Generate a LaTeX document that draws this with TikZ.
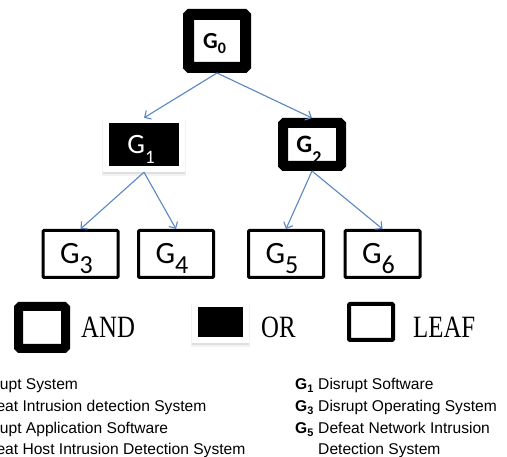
\documentclass[tikz,border=0pt]{standalone}
\usepackage{fontspec}
\setmainfont{Liberation Sans}
\newfontfamily\calfont{Carlito}
\newfontfamily\serfont{Liberation Serif}
\usetikzlibrary{arrows.meta,shadows}
\definecolor{arrowblue}{RGB}{91,134,196}
\newcommand{\gsub}[4]{G\raisebox{-#2}[0pt][0pt]{\fontsize{#3}{#3}\selectfont #1}\kern#4}
\begin{document}
\begin{tikzpicture}[x=1pt,y=-1pt,
  andbox/.style={draw=black, fill=white, rounded corners=1.5pt, inner sep=0pt},
  orbox/.style={fill=white, inner sep=0pt,
    drop shadow={shadow xshift=0pt,shadow yshift=-3pt,opacity=0.10,shadow scale=1.03},
    drop shadow={shadow xshift=-0.3pt,shadow yshift=-1.8pt,opacity=0.16},
    path picture={\fill[black] ([xshift=6pt,yshift=6pt]path picture bounding box.south west) rectangle ([xshift=-6pt,yshift=-5pt]path picture bounding box.north east);}},
  leafbox/.style={draw=black, fill=white, line width=3pt, inner sep=0pt, minimum width=75pt, minimum height=47pt, rounded corners=1pt},
  conn/.style={draw=arrowblue, line width=1.1pt, -{Straight Barb[length=5pt,width=10pt]}},
  gfont/.style={font=\calfont\fontsize{31}{31}\selectfont},
  legtext/.style={font=\serfont\fontsize{31}{31}\selectfont, anchor=west, inner sep=0pt},
  desc/.style={font=\fontsize{15.6}{18}\selectfont, anchor=base west, inner sep=0pt}
]
\useasboundingbox (0,0) rectangle (507,457);
\clip (0,0) rectangle (507,457);
\fill[white] (0,0) rectangle (507,457);

% tree
\node[andbox, line width=11pt, minimum width=57pt, minimum height=53pt,
      font=\calfont\bfseries\fontsize{23}{23}\selectfont] (g0) at (217,41) {\gsub{0}{5pt}{16}{5pt}};
\node[orbox, minimum width=82pt, minimum height=54pt, text=white,
      font=\calfont\fontsize{28}{28}\selectfont] (g1) at (144,145) {\gsub{1}{10pt}{19}{6pt}};
\node[andbox, line width=10pt, minimum width=58pt, minimum height=43pt,
      font=\calfont\bfseries\fontsize{25}{25}\selectfont] (g2) at (312,144.5) {\gsub{2}{11pt}{18}{6pt}};
\node[leafbox, gfont] (g3) at (80.5,254) {\gsub{3}{10pt}{26}{8pt}};
\node[leafbox, gfont] (g4) at (176,254) {\gsub{4}{10pt}{26}{8pt}};
\node[leafbox, gfont] (g5) at (286,254) {\gsub{5}{10pt}{26}{8pt}};
\node[leafbox, gfont] (g6) at (382.5,254) {\gsub{6}{10pt}{26}{8pt}};

\draw[conn] (g0.south) -- (g1.north);
\draw[conn] (g0.south) -- (g2.north);
\draw[conn] (g1.south) -- (g3.north);
\draw[conn] (g1.south) -- (g4.north);
\draw[conn] (g2.south) -- (g5.north);
\draw[conn] (g2.south) -- (g6.north);

% legend
\node[andbox, line width=9pt, minimum width=47pt, minimum height=42pt] (andkey) at (42,327.5) {};
\node[legtext] (andlab) at (81,327.5) {\scalebox{0.8}[1]{AND}};
\node[orbox, minimum width=57pt, minimum height=41pt] (orkey) at (220.5,322.5) {};
\node[legtext] (orlab) at (261,327.5) {\scalebox{0.8}[1]{OR}};
\node[leafbox, line width=4pt, minimum width=44pt, minimum height=36pt] (leafkey) at (371,322) {};
\node[legtext] (leaflab) at (413,327.5) {\scalebox{0.8}[1]{LEAF}};

% descriptions (left column is cut by the picture's left edge, as in the reference)
\node[desc] (d0) at (-51,389.5) {\textbf{G\textsubscript{0}} Disrupt System};
\node[desc] (d2) at (-51,411.5) {\textbf{G\textsubscript{2}} Defeat Intrusion detection System};
\node[desc] (d4) at (-51,433.5) {\textbf{G\textsubscript{4}} Disrupt Application Software};
\node[desc] (d6) at (-51,455) {\textbf{G\textsubscript{6}} Defeat Host Intrusion Detection System};
\node[desc] (d1) at (295,389.5) {\textbf{G\textsubscript{1}} Disrupt Software};
\node[desc] (d3) at (295,411.5) {\textbf{G\textsubscript{3}} Disrupt Operating System};
\node[desc] (d5) at (295,433.5) {\textbf{G\textsubscript{5}} Defeat Network Intrusion};
\node[desc] (d5b) at (295,455) {\hphantom{\textbf{G\textsubscript{5}} }Detection System};
\end{tikzpicture}
\end{document}
